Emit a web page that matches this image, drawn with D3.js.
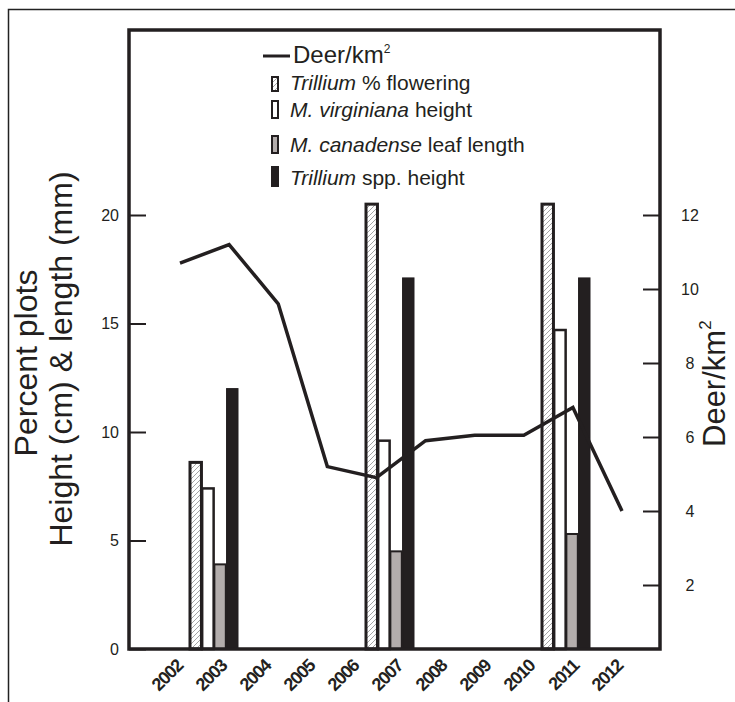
<!DOCTYPE html>
<html>
<head>
<meta charset="utf-8">
<script src="https://cdn.jsdelivr.net/npm/d3@7/dist/d3.min.js"></script>
<style>
  body { margin: 0; background: #fff; }
  svg { display: block; font-family: "Liberation Sans", Arial, sans-serif; }
</style>
</head>
<body>
<div id="chart"></div>
<script>
// years along the bottom axis
var years = ["2002", "2003", "2004", "2005", "2006", "2007", "2008", "2009", "2010", "2011", "2012"];

// years with plant surveys
var surveyYears = ["2003", "2007", "2011"];
var trilliumFlowering = [8.6, 20.5, 20.5];   // Trillium % flowering
var virginianaHeight = [7.4, 9.6, 14.7];     // M. virginiana height
var canadenseLeaf = [3.9, 4.5, 5.3];         // M. canadense leaf length
var trilliumHeight = [12.0, 17.1, 17.1];     // Trillium spp. height

// deer density line
var deerYears = ["2002", "2003", "2004", "2005", "2006", "2007", "2008", "2009", "2010", "2011"];
var deerDensity = [10.7, 11.2, 9.6, 5.2, 4.9, 5.9, 6.05, 6.05, 6.8, 4.0];

var leftTicks = [0, 5, 10, 15, 20];
var rightTicks = [2, 4, 6, 8, 10, 12];

var ink = "#231f20";
var width = 735, height = 702;
var plot = { left: 129, right: 660, top: 30, bottom: 649 };

var seriesKeys = ["flowering", "virginiana", "canadense", "trillium"];
var seriesValues = {
  flowering: trilliumFlowering,
  virginiana: virginianaHeight,
  canadense: canadenseLeaf,
  trillium: trilliumHeight
};

var svg = d3.select("#chart").append("svg")
  .attr("width", width)
  .attr("height", height);

// hatch used by the flowering bars
var defs = svg.append("defs");
defs.append("pattern")
  .attr("id", "hatch")
  .attr("patternUnits", "userSpaceOnUse")
  .attr("width", 5)
  .attr("height", 5)
  .append("path")
  .attr("d", "M-1,1 l2,-2 M0,5 l5,-5 M4,6 l2,-2")
  .style("stroke", "#9a9a9a")
  .style("stroke-width", 0.9);

var barStyle = {
  flowering: { fill: "url(#hatch)", stroke: ink, sw: 3 },
  virginiana: { fill: "#fff", stroke: ink, sw: 2.5 },
  canadense: { fill: "#b3adac", stroke: ink, sw: 2 },
  trillium: { fill: ink, stroke: ink, sw: 1 }
};

// outer frame
svg.append("rect")
  .attr("x", 8.5).attr("y", 9.5)
  .attr("width", 760).attr("height", 720)
  .style("fill", "none")
  .style("stroke", "#222")
  .style("stroke-width", 1.5);

var x = d3.scaleBand().domain(years).range([148, 632]);
var xSub = d3.scaleBand().domain(seriesKeys).range([-24, 24]).paddingInner(0.06);
var xDeer = d3.scalePoint().domain(deerYears).range([180, 622]);
var yLeft = d3.scaleLinear().domain([0, 20]).range([649, 215]);
var yRight = d3.scaleLinear().domain([0, 12]).range([659, 215]);

// bars
var bars = [];
surveyYears.forEach(function(yr, i) {
  seriesKeys.forEach(function(k) {
    bars.push({ year: yr, key: k, value: seriesValues[k][i] });
  });
});

svg.append("g").selectAll("rect")
  .data(bars)
  .enter()
  .append("rect")
  .attr("x", function(d) { return x(d.year) + x.bandwidth() / 2 + xSub(d.key); })
  .attr("width", xSub.bandwidth())
  .attr("y", function(d) { return yLeft(d.value); })
  .attr("height", function(d) { return yLeft(0) - yLeft(d.value); })
  .style("fill", function(d) { return barStyle[d.key].fill; })
  .style("stroke", function(d) { return barStyle[d.key].stroke; })
  .style("stroke-width", function(d) { return barStyle[d.key].sw; });

// deer line on top of the bars
var line = d3.line()
  .x(function(d, i) { return xDeer(deerYears[i]); })
  .y(function(d) { return yRight(d); });

svg.append("path")
  .datum(deerDensity)
  .attr("d", line)
  .style("fill", "none")
  .style("stroke", ink)
  .style("stroke-width", 3.5)
  .style("stroke-linejoin", "miter");

// plot box
svg.append("path")
  .attr("d", "M" + plot.left + "," + plot.bottom + "V" + plot.top + "H" + plot.right + "V" + plot.bottom + "Z")
  .style("fill", "none")
  .style("stroke", ink)
  .style("stroke-width", 3.5);

// left axis, ticks pointing into the plot
var leftAxis = svg.append("g")
  .attr("transform", "translate(" + plot.left + ",0)")
  .call(d3.axisLeft(yLeft).tickValues(leftTicks).tickSizeInner(-17).tickSizeOuter(0).tickPadding(10));
leftAxis.select(".domain").remove();
leftAxis.selectAll("line").style("stroke", ink).style("stroke-width", 2);
leftAxis.selectAll("text").style("font-size", "16px").style("fill", ink).style("font-family", null);

// right axis
var rightAxis = svg.append("g")
  .attr("transform", "translate(" + plot.right + ",0)")
  .call(d3.axisRight(yRight).tickValues(rightTicks).tickSizeInner(-17).tickSizeOuter(0).tickPadding(30));
rightAxis.select(".domain").remove();
rightAxis.selectAll("line").style("stroke", ink).style("stroke-width", 2);
rightAxis.selectAll("text").style("font-size", "16px").style("fill", ink)
  .style("font-family", null).attr("text-anchor", "middle");

// year labels, rotated
svg.append("g").selectAll("text")
  .data(years)
  .enter()
  .append("text")
  .attr("transform", function(d) {
    return "translate(" + (x(d) + x.bandwidth() / 2 + 14) + ",667) rotate(-45)";
  })
  .attr("text-anchor", "end")
  .style("font-size", "18px")
  .style("font-weight", "bold")
  .style("letter-spacing", "-1.2px")
  .style("fill", ink)
  .text(function(d) { return d; });

// axis titles
svg.append("text")
  .attr("transform", "translate(37,363) rotate(-90)")
  .attr("text-anchor", "middle")
  .style("font-size", "32px")
  .style("fill", ink)
  .text("Percent plots");
svg.append("text")
  .attr("transform", "translate(72,359) rotate(-90)")
  .attr("text-anchor", "middle")
  .style("font-size", "32px")
  .style("fill", ink)
  .text("Height (cm) & length (mm)");

// right title kept inside the window
var rTitle = svg.append("text")
  .attr("transform", "translate(725,447) rotate(-90)")
  .style("font-size", "31px")
  .style("fill", ink);
rTitle.append("tspan").text("Deer/km");
rTitle.append("tspan").attr("dy", -14).style("font-size", "17px").text("2");

// legend
var legend = svg.append("g");
legend.append("line")
  .attr("x1", 263).attr("x2", 290)
  .attr("y1", 56).attr("y2", 56)
  .style("stroke", ink)
  .style("stroke-width", 3);
var dTitle = legend.append("text")
  .attr("x", 293).attr("y", 63)
  .style("font-size", "24px")
  .style("fill", ink);
dTitle.append("tspan").text("Deer/km");
dTitle.append("tspan").attr("dy", -10).style("font-size", "12px").text("2");

var legendItems = [
  { key: "flowering", italic: "Trillium", rest: " % flowering", y: 90, h: 14 },
  { key: "virginiana", italic: "M. virginiana", rest: " height", y: 117, h: 17 },
  { key: "canadense", italic: "M. canadense", rest: " leaf length", y: 152, h: 17 },
  { key: "trillium", italic: "Trillium", rest: " spp. height", y: 185, h: 19 }
];

legendItems.forEach(function(item) {
  legend.append("rect")
    .attr("x", 272).attr("y", item.y - item.h + 1)
    .attr("width", 6).attr("height", item.h)
    .style("fill", barStyle[item.key].fill)
    .style("stroke", ink)
    .style("stroke-width", 2);
  var t = legend.append("text")
    .attr("x", 290).attr("y", item.y)
    .style("font-size", "21px")
    .style("fill", ink);
  t.append("tspan").style("font-style", "italic").text(item.italic);
  t.append("tspan").text(item.rest);
});
</script>
</body>
</html>
